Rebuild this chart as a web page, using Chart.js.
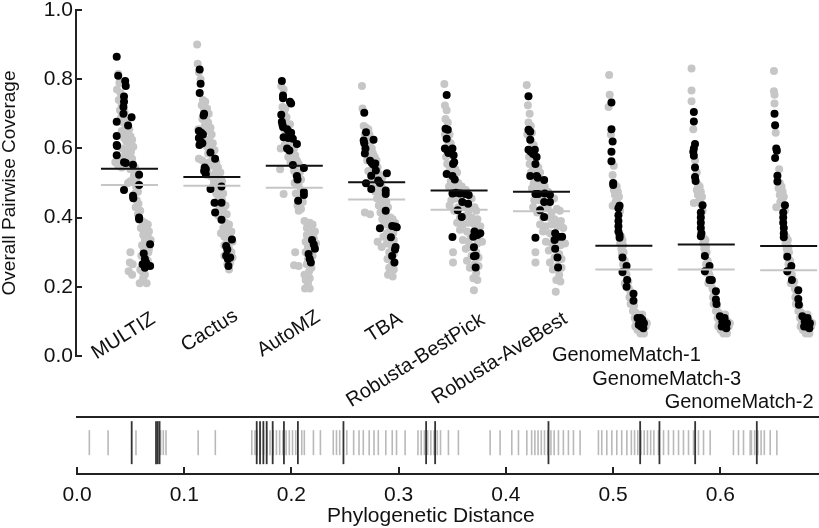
<!DOCTYPE html>
<html>
<head>
<meta charset="utf-8">
<script src="https://cdn.jsdelivr.net/npm/chart.js@4"></script>
<style>
  html, body { margin: 0; padding: 0; background: #fff; }
  #wrap { position: relative; width: 819px; height: 528px; }
  #wrap canvas { position: absolute; left: 0; top: 0; }
</style>
</head>
<body>
<div id="wrap">
  <canvas id="coverage" width="819" height="528"></canvas>
  <canvas id="rug" width="819" height="528"></canvas>
</div>
<script>
// aligners, in plot order
const groupNames = ['MULTIZ', 'Cactus', 'AutoMZ', 'TBA', 'Robusta-BestPick', 'Robusta-AveBest',
                    'GenomeMatch-1', 'GenomeMatch-3', 'GenomeMatch-2'];

// mean coverage lines (black = highlighted pairs, gray = all pairs)
const meanBlack = [0.541, 0.517, 0.550, 0.502, 0.478, 0.475, 0.319, 0.322, 0.318];
const meanGray  = [0.494, 0.492, 0.486, 0.452, 0.423, 0.418, 0.250, 0.250, 0.248];

// points: [phylogenetic distance, overall pairwise coverage]
const multizBlack = [[.064,.865],[.09,.81],[.21,.795],[.22,.78],[.19,.75],[.19,.735],[.18,.72],[.18,.70],[.32,.69],[.064,.677],[.26,.666],[.064,.636],[.064,.61],[.07,.607],[.064,.58],[.19,.56],[.22,.558],[.345,.553],[.45,.524],[.45,.494],[.19,.48],[.345,.463],[.35,.456],[.45,.40],[.45,.395],[.64,.323],[.53,.296],[.55,.28],[.51,.265],[.55,.255],[.64,.26],[.57,.27]];
const multizGray = [[.09,.815],[.11,.79],[.07,.77],[.13,.76],[.10,.74],[.15,.725],[.12,.71],[.2,.705],[.14,.69],[.24,.68],[.17,.675],[.22,.66],[.28,.655],[.15,.65],[.26,.64],[.30,.635],[.19,.63],[.33,.625],[.23,.62],[.28,.61],[.35,.605],[.16,.60],[.25,.595],[.31,.59],[.21,.585],[.27,.575],[.12,.57],[.19,.57],[.33,.57],[.04,.56],[.09,.55],[.15,.545],[.24,.55],[.30,.54],[.38,.545],[.42,.53],[.36,.52],[.40,.51],[.30,.505],[.26,.50],[.40,.49],[.43,.475],[.38,.47],[.41,.45],[.44,.44],[.39,.43],[.47,.42],[.43,.41],[.5,.39],[.55,.385],[.6,.38],[.48,.37],[.57,.365],[.62,.36],[.52,.35],[.60,.345],[.55,.335],[.65,.335],[.5,.32],[.58,.315],[.53,.305],[.61,.30],[.49,.29],[.56,.285],[.6,.275],[.5,.245],[.55,.235],[.46,.21],[.58,.21],[.30,.30],[.29,.27],[.34,.265],[.27,.245],[.33,.235],[.52,.225],[.47,.25],[.62,.31]];

const cactusBlack = [[.074,.828],[.09,.787],[.074,.76],[.15,.70],[.14,.695],[.06,.65],[.10,.645],[.13,.64],[.06,.63],[.09,.62],[.12,.615],[.07,.61],[.26,.588],[.34,.57],[.16,.545],[.18,.54],[.15,.535],[.18,.525],[.26,.483],[.45,.49],[.33,.443],[.45,.443],[.34,.415],[.45,.394],[.63,.337],[.53,.318],[.55,.308],[.53,.29],[.6,.285],[.56,.28],[.57,.26]];
const cactusGray = [[.03,.90],[.04,.845],[.06,.82],[.09,.80],[.13,.74],[.17,.735],[.11,.725],[.20,.715],[.15,.71],[.23,.70],[.18,.69],[.12,.685],[.22,.675],[.16,.665],[.26,.66],[.05,.655],[.20,.65],[.28,.64],[.16,.625],[.24,.625],[.30,.615],[.20,.605],[.27,.60],[.33,.595],[.22,.585],[.06,.57],[.30,.575],[.12,.565],[.36,.56],[.24,.56],[.30,.55],[.39,.545],[.21,.53],[.35,.53],[.43,.53],[.26,.52],[.40,.515],[.32,.505],[.46,.505],[.37,.495],[.30,.49],[.42,.48],[.36,.47],[.48,.47],[.40,.46],[.46,.45],[.38,.44],[.52,.435],[.42,.425],[.48,.42],[.40,.405],[.54,.41],[.46,.395],[.52,.385],[.58,.38],[.48,.37],[.56,.365],[.62,.36],[.52,.35],[.60,.345],[.55,.33],[.64,.33],[.50,.32],[.58,.31],[.62,.30],[.50,.29],[.60,.27],[.64,.285],[.55,.265],[.58,.25],[.50,.345],[.44,.355]];

const autoMZBlack = [[.07,.795],[.09,.753],[.09,.745],[.21,.735],[.23,.73],[.06,.697],[.07,.677],[.08,.668],[.09,.662],[.16,.655],[.19,.648],[.23,.645],[.10,.632],[.18,.63],[.26,.628],[.16,.60],[.20,.594],[.33,.613],[.26,.552],[.45,.543],[.33,.52],[.34,.51],[.45,.474],[.45,.465],[.35,.449],[.59,.335],[.62,.322],[.64,.31],[.53,.295],[.55,.28],[.57,.27]];
const autoMZGray = [[.06,.78],[.10,.77],[.08,.72],[.13,.715],[.11,.70],[.15,.69],[.13,.675],[.17,.665],[.21,.67],[.11,.655],[.14,.64],[.22,.62],[.25,.615],[.12,.61],[.05,.60],[.21,.605],[.28,.60],[.24,.585],[.30,.58],[.18,.575],[.27,.57],[.33,.565],[.22,.56],[.30,.55],[.36,.555],[.04,.54],[.28,.535],[.38,.53],[.31,.525],[.40,.51],[.29,.50],[.36,.495],[.40,.48],[.31,.47],[.38,.455],[.10,.468],[.43,.445],[.34,.435],[.40,.425],[.36,.42],[.46,.39],[.55,.385],[.60,.38],[.50,.37],[.58,.365],[.64,.36],[.50,.35],[.56,.345],[.62,.34],[.48,.33],[.66,.325],[.52,.315],[.56,.30],[.48,.30],[.60,.29],[.52,.28],[.50,.265],[.58,.255],[.54,.245],[.46,.235],[.55,.225],[.52,.21],[.30,.30],[.28,.262],[.36,.26],[.48,.22],[.47,.195],[.55,.195]];

const tbaBlack = [[.07,.703],[.10,.647],[.06,.623],[.07,.615],[.09,.60],[.08,.585],[.23,.625],[.17,.564],[.2,.558],[.23,.553],[.26,.556],[.27,.536],[.19,.521],[.10,.499],[.31,.507],[.34,.50],[.46,.528],[.19,.483],[.44,.478],[.44,.468],[.44,.42],[.34,.369],[.55,.376],[.60,.374],[.63,.372],[.53,.343],[.61,.315],[.60,.308],[.55,.289],[.59,.27]];
const tbaGray = [[.03,.78],[.04,.715],[.06,.665],[.10,.66],[.14,.655],[.08,.64],[.16,.64],[.12,.625],[.18,.62],[.14,.605],[.20,.60],[.12,.59],[.22,.585],[.16,.575],[.25,.575],[.12,.565],[.28,.565],[.22,.545],[.30,.545],[.14,.535],[.25,.53],[.33,.525],[.20,.51],[.28,.51],[.38,.515],[.23,.495],[.31,.49],[.37,.49],[.26,.475],[.34,.47],[.41,.46],[.29,.455],[.37,.45],[.45,.445],[.32,.435],[.40,.435],[.48,.43],[.08,.415],[.17,.41],[.35,.415],[.44,.41],[.52,.40],[.38,.395],[.48,.39],[.56,.395],[.42,.38],[.52,.37],[.60,.385],[.46,.355],[.57,.355],[.40,.345],[.50,.34],[.58,.335],[.30,.33],[.37,.315],[.46,.325],[.54,.32],[.50,.30],[.58,.295],[.47,.28],[.55,.27],[.50,.255],[.58,.25],[.48,.235],[.56,.23],[.52,.24]];

const bestPickBlack = [[.07,.754],[.05,.657],[.09,.654],[.07,.628],[.04,.60],[.08,.595],[.10,.587],[.17,.60],[.19,.58],[.20,.56],[.18,.555],[.07,.526],[.17,.52],[.21,.51],[.17,.47],[.23,.472],[.3,.47],[.39,.468],[.45,.465],[.34,.445],[.44,.44],[.26,.421],[.33,.402],[.17,.344],[.55,.36],[.60,.35],[.65,.355],[.53,.345],[.54,.314],[.54,.288],[.57,.29],[.57,.256]];
const bestPickGray = [[.03,.786],[.04,.724],[.07,.71],[.05,.685],[.09,.675],[.04,.64],[.12,.64],[.10,.62],[.14,.615],[.06,.575],[.12,.585],[.16,.58],[.08,.555],[.13,.545],[.22,.54],[.10,.53],[.25,.53],[.14,.505],[.20,.495],[.27,.50],[.11,.49],[.33,.49],[.24,.485],[.40,.48],[.15,.45],[.22,.455],[.30,.455],[.50,.455],[.12,.435],[.27,.43],[.38,.43],[.55,.43],[.20,.42],[.45,.42],[.58,.42],[.30,.40],[.40,.405],[.50,.40],[.60,.395],[.25,.385],[.35,.38],[.45,.385],[.55,.38],[.65,.375],[.30,.365],[.42,.36],[.48,.35],[.62,.34],[.35,.335],[.45,.33],[.60,.325],[.68,.33],[.40,.31],[.48,.315],[.58,.30],[.62,.285],[.50,.29],[.18,.30],[.18,.27],[.55,.265],[.62,.26],[.58,.24],[.53,.225],[.60,.22],[.54,.19],[.42,.275],[.47,.255]];

const aveBestBlack = [[.06,.751],[.06,.654],[.09,.648],[.09,.625],[.06,.596],[.10,.59],[.14,.584],[.17,.596],[.20,.575],[.18,.555],[.09,.52],[.20,.52],[.22,.515],[.33,.509],[.18,.468],[.23,.468],[.34,.47],[.43,.466],[.33,.445],[.43,.445],[.26,.421],[.33,.402],[.18,.342],[.52,.355],[.58,.345],[.64,.345],[.51,.335],[.52,.31],[.56,.285],[.57,.256]];
const aveBestGray = [[.03,.783],[.05,.725],[.08,.70],[.06,.675],[.10,.665],[.04,.64],[.12,.645],[.11,.62],[.15,.61],[.07,.575],[.13,.58],[.17,.575],[.08,.555],[.14,.54],[.23,.545],[.10,.53],[.26,.53],[.15,.50],[.21,.495],[.28,.495],[.12,.485],[.34,.49],[.25,.48],[.40,.475],[.16,.45],[.23,.45],[.31,.45],[.50,.455],[.14,.43],[.28,.425],[.39,.43],[.55,.425],[.21,.415],[.46,.415],[.60,.42],[.31,.40],[.41,.40],[.51,.395],[.62,.39],[.26,.38],[.36,.375],[.46,.38],[.56,.375],[.66,.37],[.31,.36],[.43,.355],[.49,.345],[.63,.335],[.36,.33],[.46,.325],[.61,.32],[.69,.325],[.41,.305],[.49,.31],[.59,.295],[.63,.28],[.51,.285],[.18,.30],[.18,.27],[.56,.26],[.63,.255],[.59,.235],[.54,.22],[.61,.215],[.53,.186],[.43,.27],[.48,.25]];

const gm1Black = [[.07,.733],[.07,.655],[.09,.62],[.07,.59],[.07,.563],[.10,.50],[.10,.494],[.21,.434],[.19,.427],[.19,.407],[.19,.39],[.19,.375],[.19,.36],[.21,.35],[.21,.342],[.26,.285],[.33,.26],[.26,.243],[.34,.22],[.33,.20],[.45,.18],[.45,.16],[.52,.11],[.56,.10],[.60,.105],[.63,.095],[.54,.09],[.58,.085],[.62,.08],[.57,.11]];
const gm1Gray = [[.03,.812],[.04,.755],[.02,.72],[.06,.64],[.11,.55],[.09,.523],[.13,.495],[.16,.49],[.11,.48],[.18,.475],[.13,.465],[.17,.455],[.20,.46],[.14,.445],[.18,.44],[.09,.434],[.22,.42],[.24,.345],[.26,.335],[.22,.325],[.27,.32],[.24,.31],[.28,.30],[.25,.295],[.30,.275],[.27,.265],[.31,.25],[.28,.24],[.33,.235],[.30,.21],[.36,.215],[.37,.195],[.40,.185],[.38,.17],[.43,.165],[.40,.15],[.46,.145],[.44,.13],[.49,.125],[.52,.12],[.47,.11],[.55,.115],[.60,.12],[.50,.095],[.55,.085],[.64,.10],[.66,.085],[.52,.075],[.60,.07],[.48,.085],[.63,.065],[.57,.065],[.68,.095]];

const gm3Black = [[.07,.705],[.07,.678],[.09,.613],[.07,.60],[.06,.59],[.07,.579],[.09,.545],[.09,.517],[.10,.506],[.22,.436],[.19,.415],[.19,.40],[.19,.385],[.19,.37],[.20,.355],[.19,.346],[.26,.289],[.34,.26],[.26,.245],[.34,.22],[.38,.22],[.45,.187],[.45,.163],[.46,.15],[.52,.115],[.56,.10],[.60,.11],[.64,.095],[.55,.085],[.60,.085],[.63,.08]];
const gm3Gray = [[.03,.831],[.03,.767],[.03,.736],[.06,.655],[.09,.565],[.12,.53],[.14,.495],[.17,.49],[.12,.48],[.19,.475],[.14,.465],[.18,.455],[.21,.46],[.15,.445],[.19,.44],[.07,.442],[.22,.42],[.24,.34],[.27,.335],[.23,.325],[.28,.315],[.25,.31],[.29,.30],[.26,.295],[.31,.275],[.28,.265],[.32,.25],[.29,.24],[.34,.235],[.32,.21],[.38,.215],[.39,.195],[.42,.185],[.40,.17],[.44,.165],[.41,.15],[.47,.145],[.45,.13],[.50,.125],[.53,.12],[.48,.11],[.56,.115],[.61,.12],[.51,.095],[.56,.085],[.65,.10],[.67,.085],[.53,.075],[.61,.07],[.49,.085],[.64,.065],[.58,.065],[.69,.095]];

const gm2Black = [[.04,.70],[.05,.667],[.07,.60],[.08,.593],[.05,.572],[.09,.521],[.09,.504],[.22,.436],[.19,.415],[.19,.40],[.19,.385],[.2,.37],[.2,.355],[.2,.343],[.26,.287],[.33,.26],[.26,.245],[.34,.22],[.45,.19],[.45,.165],[.46,.148],[.52,.115],[.56,.10],[.61,.11],[.65,.095],[.55,.085],[.60,.085],[.64,.08]];
const gm2Gray = [[.03,.824],[.03,.765],[.04,.755],[.04,.73],[.06,.645],[.12,.54],[.13,.50],[.16,.49],[.11,.485],[.18,.475],[.13,.465],[.17,.455],[.20,.46],[.14,.445],[.18,.44],[.07,.43],[.22,.42],[.24,.345],[.27,.335],[.23,.325],[.28,.315],[.25,.31],[.29,.30],[.26,.295],[.31,.275],[.28,.265],[.32,.25],[.29,.24],[.34,.235],[.32,.21],[.38,.215],[.39,.195],[.42,.185],[.40,.17],[.44,.165],[.41,.15],[.47,.145],[.45,.13],[.50,.125],[.53,.12],[.48,.11],[.56,.115],[.61,.12],[.51,.095],[.56,.085],[.65,.10],[.67,.085],[.53,.075],[.61,.07],[.49,.085],[.64,.065],[.58,.065],[.69,.095]];

// phylogenetic distances of species pairs (rug plot)
const rugGray = [.0115,.029,.055,.078,.0805,.083,.113,.129,
  .163,.166,.168,.171,.174,.177,.180,.183,.186,.189,.192,.195,.198,.201,.204,
  .2096,.212,.2205,.227,.239,.242,.245,.2516,.258,.263,.267,.2725,.277,.281,.288,.294,.298,.306,
  .318,.321,.324,.327,.330,.333,.336,.339,.3464,.3557,.3853,.3946,.4055,.4117,.4195,
  .424,.427,.430,.433,.436,.439,.442,.445,.449,.4536,.4583,.463,.4692,.4863,.4894,.4941,.4988,.5034,.508,.5128,
  .517,.520,.523,.526,.529,.532,.535,.538,.5423,.547,.5516,.5563,.561,.5656,.5703,.575,.5796,.5843,.5905,
  .6122,.6169,.6216,.6278,.629,.632,.635,.638,.641,.6465,.6527];
const rugBlack = [.051,.0737,.0753,.077,.1676,.1707,.1738,.1769,.1825,.193,.206,.2485,.3256,.334,.4397,.5252,.5432,.5765,.634];

const coverageTicks = [0, 0.2, 0.4, 0.6, 0.8, 1.0];
const distanceTicks = [0, 0.1, 0.2, 0.3, 0.4, 0.5, 0.6];

const grayPts  = [multizGray, cactusGray, autoMZGray, tbaGray, bestPickGray, aveBestGray, gm1Gray, gm3Gray, gm2Gray];
const blackPts = [multizBlack, cactusBlack, autoMZBlack, tbaBlack, bestPickBlack, aveBestBlack, gm1Black, gm3Black, gm2Black];

const FONT = "'Liberation Sans', Arial, Helvetica, sans-serif";
const GRAY = '#c6c6c6';
Chart.defaults.font.family = FONT;
Chart.defaults.color = '#111';

// distance spreads points to the right inside each aligner's column
const toXY = (i) => ([d, v]) => ({ x: i - 0.2 + 0.704 * d, y: v });
const meanLine = (means) => {
    const out = [];
    means.forEach((m, i) => {
        out.push({ x: i - 0.346, y: m }, { x: i + 0.346, y: m }, { x: i + 0.5, y: null });
    });
    return out;
};

// label placement: [dx from column centre, baseline y, rotation]
const labelPlace = [[27, 322, -32], [27, 319, -32], [27, 320, -32], [27, 322, -32], [27, 323, -32], [27, 322, -32],
                    [-72, 361, 0], [-114, 385, 0], [-124, 408, 0]];

const coverageDecor = {
    id: 'coverageDecor',
    afterDraw(chart) {
        const { ctx, chartArea, scales: { x, y } } = chart;
        ctx.save();
        ctx.strokeStyle = '#222';
        ctx.lineWidth = 2;
        coverageTicks.forEach(t => {
            const py = Math.round(y.getPixelForValue(t));
            ctx.beginPath();
            ctx.moveTo(chartArea.left, py);
            ctx.lineTo(chartArea.left + 6, py);
            ctx.stroke();
        });
        ctx.fillStyle = '#111';
        ctx.font = '20px ' + FONT;
        groupNames.forEach((name, i) => {
            const [dx, by, rot] = labelPlace[i];
            ctx.save();
            ctx.translate(x.getPixelForValue(i) + dx, by);
            if (rot) {
                ctx.rotate(rot * Math.PI / 180);
                ctx.textAlign = 'right';
            } else {
                ctx.textAlign = 'left';
            }
            ctx.textBaseline = 'alphabetic';
            ctx.fillText(name, 0, 0);
            ctx.restore();
        });
        ctx.restore();
    }
};

new Chart(document.getElementById('coverage'), {
    type: 'scatter',
    data: {
        datasets: [
            { type: 'line', data: meanLine(meanBlack), borderColor: '#111', borderWidth: 2, pointRadius: 0, spanGaps: false },
            { type: 'line', data: meanLine(meanGray), borderColor: GRAY, borderWidth: 2, pointRadius: 0, spanGaps: false },
            { data: blackPts.flatMap((pts, i) => pts.map(toXY(i))), backgroundColor: '#000', borderWidth: 0, pointRadius: 4 },
            { data: grayPts.flatMap((pts, i) => pts.map(toXY(i))), backgroundColor: GRAY, borderWidth: 0, pointRadius: 4 }
        ]
    },
    options: {
        responsive: false,
        animation: false,
        events: [],
        layout: { padding: { top: 10, bottom: 172, left: 0, right: 0 }, autoPadding: false },
        plugins: { legend: { display: false }, tooltip: { enabled: false } },
        scales: {
            x: { type: 'linear', min: -0.649, max: 8.368, display: false },
            y: {
                min: 0, max: 1,
                grid: { display: false, drawTicks: false },
                border: { display: true, color: '#222', width: 2 },
                ticks: {
                    stepSize: 0.2, padding: 3, color: '#111',
                    font: { size: 21 },
                    callback: v => v.toFixed(1)
                },
                title: { display: true, text: 'Overall Pairwise Coverage', font: { size: 19 }, color: '#111', padding: { top: -2, bottom: 0 } },
                afterFit: s => { s.width = 76; s.paddingTop = 0; s.paddingBottom = 0; }
            }
        }
    },
    plugins: [coverageDecor]
});

const rugDecor = {
    id: 'rugDecor',
    afterDraw(chart) {
        const { ctx, chartArea, scales: { x } } = chart;
        ctx.save();
        ctx.strokeStyle = '#222';
        ctx.lineWidth = 2;
        ctx.beginPath();
        ctx.moveTo(chartArea.left - 1, chartArea.top);
        ctx.lineTo(chartArea.right, chartArea.top);
        ctx.stroke();
        distanceTicks.forEach(t => {
            const px = Math.round(x.getPixelForValue(t));
            ctx.beginPath();
            ctx.moveTo(px, chartArea.bottom);
            ctx.lineTo(px, chartArea.bottom - 7);
            ctx.stroke();
        });
        ctx.fillStyle = '#111';
        ctx.font = '21px ' + FONT;
        ctx.textAlign = 'center';
        ctx.textBaseline = 'alphabetic';
        ctx.fillText('Phylogenetic Distance', x.getPixelForValue(0.33), 522);
        ctx.restore();
    }
};

new Chart(document.getElementById('rug'), {
    type: 'scatter',
    data: {
        datasets: [
            { data: rugBlack.map(d => ({ x: d, y: 0.55 })), pointStyle: 'line', rotation: 90, radius: 21.5, borderColor: '#333', borderWidth: 1.8 },
            { data: rugGray.map(d => ({ x: d, y: 0.55 })), pointStyle: 'line', rotation: 90, radius: 12.5, borderColor: '#b9b9b9', borderWidth: 1.6 }
        ]
    },
    options: {
        responsive: false,
        animation: false,
        events: [],
        layout: { padding: { top: 417, bottom: 0, left: 77, right: 0 }, autoPadding: false },
        plugins: { legend: { display: false }, tooltip: { enabled: false } },
        scales: {
            y: { min: 0, max: 1, display: false },
            x: {
                type: 'linear', min: 0, max: 0.692,
                grid: { display: false, drawTicks: false },
                border: { display: true, color: '#222', width: 2 },
                ticks: {
                    stepSize: 0.1, includeBounds: false, padding: 9, color: '#111',
                    font: { size: 21 }, maxRotation: 0,
                    callback: v => v.toFixed(1)
                },
                afterFit: s => { s.height = 54; s.paddingLeft = 0; s.paddingRight = 0; }
            }
        }
    },
    plugins: [rugDecor]
});
</script>
</body>
</html>
